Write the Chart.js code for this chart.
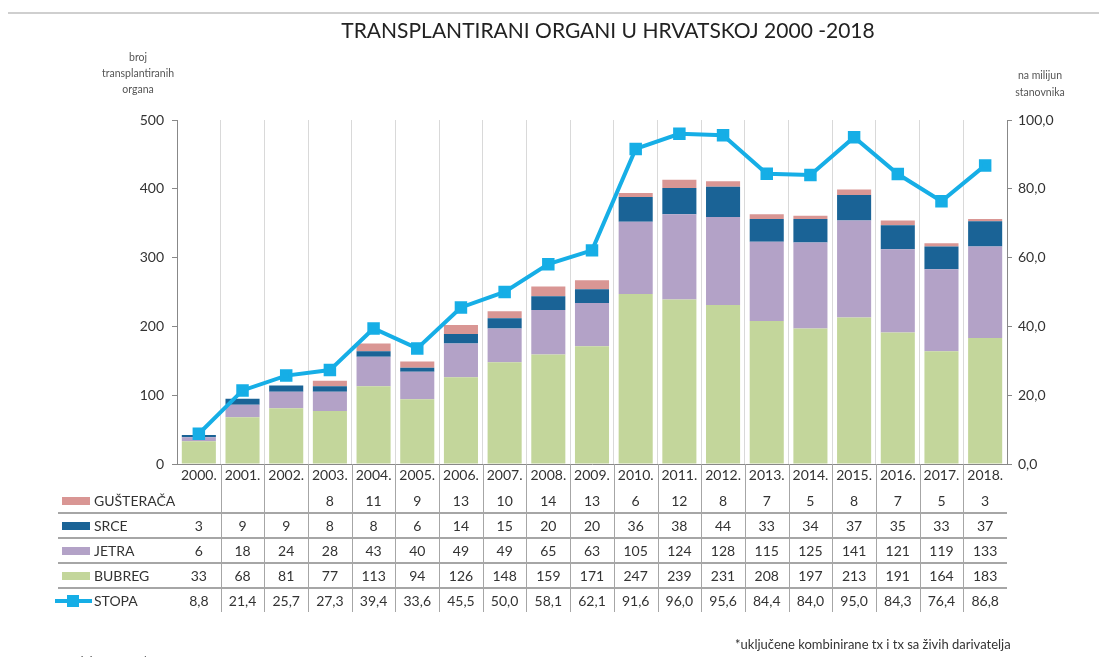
<html>
  <head>
    <script src="https://cdn.jsdelivr.net/npm/chart.js@4/dist/chart.umd.min.js"></script>
    <style>
      body { margin: 0; background: #fff; }
    </style>
  </head>
  <body>
    <div style="position: relative; width:1099px; height:657px">
      <canvas id="myChart" width="1099" height="657"></canvas>
    </div>
    <script>
      const years = ["2000.", "2001.", "2002.", "2003.", "2004.", "2005.", "2006.", "2007.", "2008.", "2009.",
        "2010.", "2011.", "2012.", "2013.", "2014.", "2015.", "2016.", "2017.", "2018."];
      const bubreg = [33, 68, 81, 77, 113, 94, 126, 148, 159, 171, 247, 239, 231, 208, 197, 213, 191, 164, 183];
      const jetra = [6, 18, 24, 28, 43, 40, 49, 49, 65, 63, 105, 124, 128, 115, 125, 141, 121, 119, 133];
      const srce = [3, 9, 9, 8, 8, 6, 14, 15, 20, 20, 36, 38, 44, 33, 34, 37, 35, 33, 37];
      const gusteraca = [null, null, null, 8, 11, 9, 13, 10, 14, 13, 6, 12, 8, 7, 5, 8, 7, 5, 3];
      const stopa = [8.8, 21.4, 25.7, 27.3, 39.4, 33.6, 45.5, 50.0, 58.1, 62.1, 91.6, 96.0, 95.6, 84.4, 84.0, 95.0, 84.3, 76.4, 86.8];
      const leftTicks = [0, 100, 200, 300, 400, 500];
      const rightTicks = [0, 20, 40, 60, 80, 100];

      const FONT = "Lato, 'Open Sans', sans-serif";
      const comma = v => v.toFixed(1).replace(".", ",");

      // table rows under the chart, top to bottom
      const tableRows = [
        { label: "GUŠTERAČA", data: gusteraca, color: "#d99694", fmt: v => String(v) },
        { label: "SRCE", data: srce, color: "#1a6396", fmt: v => String(v) },
        { label: "JETRA", data: jetra, color: "#b3a2c7", fmt: v => String(v) },
        { label: "BUBREG", data: bubreg, color: "#c3d69b", fmt: v => String(v) },
        { label: "STOPA", data: stopa, color: "#16aee6", fmt: comma, line: true }
      ];

      const extras = {
        id: "extras",
        afterDraw(chart) {
          const c = chart.ctx;
          const x = chart.scales.x;
          const area = chart.chartArea;
          c.save();

          // top rule
          c.strokeStyle = "#cfcfcf";
          c.lineWidth = 2;
          c.beginPath();
          c.moveTo(8, 13);
          c.lineTo(1099, 13);
          c.stroke();

          // title
          c.fillStyle = "#222";
          c.textAlign = "center";
          c.textBaseline = "middle";
          c.font = "21px " + FONT;
          c.fillText("TRANSPLANTIRANI ORGANI U HRVATSKOJ 2000 -2018", 608, 31);

          // axis titles
          c.fillStyle = "#555";
          c.font = "10.5px " + FONT;
          c.fillText("broj", 138, 58);
          c.fillText("transplantiranih", 138, 74);
          c.fillText("organa", 138, 90);
          c.fillText("na milijun", 1040, 76);
          c.fillText("stanovnika", 1040, 93);

          // data table
          const colW = x.getPixelForValue(1) - x.getPixelForValue(0);
          const rowY = [501, 526, 551, 576, 601];
          c.strokeStyle = "#a6a6a6";
          c.lineWidth = 1;
          for (let i = 1; i < years.length; i++) {
            const bx = Math.round(x.getPixelForValue(i) - colW / 2) + 0.5;
            c.beginPath();
            c.moveTo(bx, area.bottom);
            c.lineTo(bx, 612);
            c.stroke();
          }
          c.lineWidth = 2;
          [513, 538, 563, 588].forEach(ly => {
            c.beginPath();
            c.moveTo(58, ly);
            c.lineTo(area.right, ly);
            c.stroke();
          });

          c.fillStyle = "#333";
          c.font = "14px " + FONT;
          years.forEach((y, i) => c.fillText(y, x.getPixelForValue(i), 475));

          tableRows.forEach((row, r) => {
            const cy = rowY[r];
            if (row.line) {
              c.strokeStyle = row.color;
              c.lineWidth = 4;
              c.beginPath();
              c.moveTo(55, cy);
              c.lineTo(92, cy);
              c.stroke();
              c.fillStyle = row.color;
              c.fillRect(67, cy - 6, 12, 12);
            } else {
              c.fillStyle = row.color;
              c.fillRect(62, cy - 4, 28, 8);
            }
            c.fillStyle = "#333";
            c.textAlign = "left";
            c.fillText(row.label, 94, cy);
            c.textAlign = "center";
            row.data.forEach((v, i) => {
              if (v !== null) c.fillText(row.fmt(v), x.getPixelForValue(i), cy);
            });
          });

          // notes
          c.fillStyle = "#333";
          c.font = "13px " + FONT;
          c.textAlign = "left";
          c.fillText("*uključene kombinirane tx i tx sa živih darivatelja", 735, 645);
          c.font = "italic 12px " + FONT;
          c.fillStyle = "#555";
          c.fillText("Izvor: Ministarstvo zdravstva", 40, 661);
          c.restore();
        }
      };

      const ctx = document.getElementById("myChart").getContext("2d");
      const chart = new Chart(ctx, {
        data: {
          labels: years,
          datasets: [
            { type: "line", label: "STOPA", data: stopa, yAxisID: "y1", order: 0,
              borderColor: "#16aee6", backgroundColor: "#16aee6", borderWidth: 4,
              pointStyle: "rect", pointRadius: 6, tension: 0 },
            { type: "bar", label: "BUBREG", data: bubreg, backgroundColor: "#c3d69b", order: 1 },
            { type: "bar", label: "JETRA", data: jetra, backgroundColor: "#b3a2c7", order: 1 },
            { type: "bar", label: "SRCE", data: srce, backgroundColor: "#1a6396", order: 1 },
            { type: "bar", label: "GUŠTERAČA", data: gusteraca, backgroundColor: "#d99694", order: 1 }
          ]
        },
        options: {
          responsive: false,
          animation: false,
          layout: { padding: { top: 120, bottom: 193, left: 0, right: 0 } },
          datasets: { bar: { barPercentage: 0.78, categoryPercentage: 1 } },
          plugins: { legend: { display: false }, tooltip: { enabled: false } },
          scales: {
            x: {
              stacked: true,
              offset: true,
              ticks: { display: false },
              grid: { color: "#d9d9d9", drawTicks: false, offset: true },
              border: { color: "#888" },
              afterFit: s => { s.height = 0; }
            },
            y: {
              stacked: true,
              min: 0, max: 500,
              afterBuildTicks: s => { s.ticks = leftTicks.map(v => ({ value: v })); },
              ticks: { color: "#333", font: { family: FONT, size: 14 }, padding: 8 },
              grid: { drawOnChartArea: false, tickLength: 5, color: "#888" },
              border: { color: "#888" },
              afterFit: s => { s.width = 177; }
            },
            y1: {
              position: "right",
              min: 0, max: 100,
              afterBuildTicks: s => { s.ticks = rightTicks.map(v => ({ value: v })); },
              ticks: { color: "#333", font: { family: FONT, size: 14 }, padding: 6, callback: v => comma(v) },
              grid: { drawOnChartArea: false, tickLength: 5, color: "#888" },
              border: { color: "#888" },
              afterFit: s => { s.width = 92; }
            }
          }
        },
        plugins: [extras]
      });
    </script>
  </body>
</html>
